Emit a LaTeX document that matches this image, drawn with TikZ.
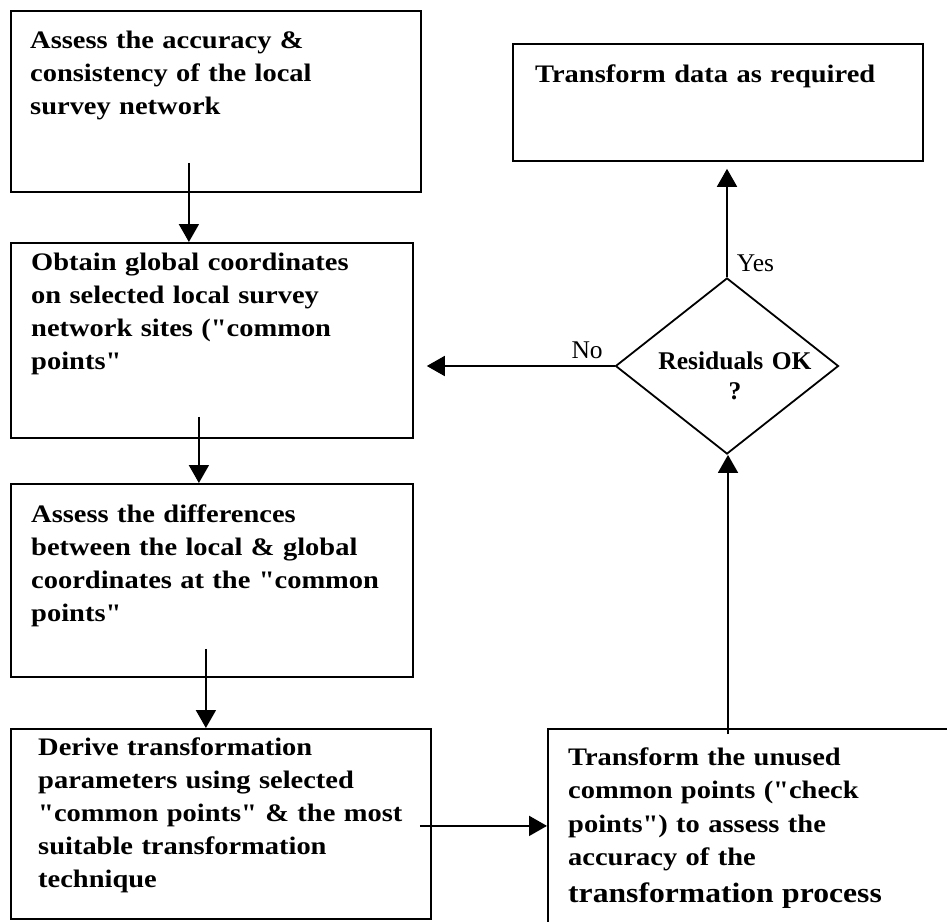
\documentclass[tikz,border=0pt]{standalone}
\usepackage{fontspec}
\newfontfamily\boxfont{Liberation Serif}[FakeStretch=1.13]
\newfontfamily\plainfont{Liberation Serif}
\usetikzlibrary{shapes.geometric,arrows.meta,calc}

\begin{document}
\begin{tikzpicture}[
    x=1pt, y=-1pt,
    stepbox/.style={draw, rectangle, line width=1.8pt, anchor=north west, inner sep=0pt},
    steptext/.style={anchor=base west, inner sep=0pt, text width=420pt, align=left, font=\boxfont\fontsize{25.2}{33}\selectfont\bfseries},
    answer/.style={anchor=base west, inner sep=0pt, font=\plainfont\fontsize{25.5}{30}\selectfont},
    flow/.style={-{Triangle[width=20pt,length=18pt]}, line width=1.8pt}
]
    \clip (0,0) rectangle (947,921);

    % process boxes
    \node[stepbox, minimum width=410pt, minimum height=181pt] (accuracy) at (10,10) {};
    \node[stepbox, minimum width=402pt, minimum height=195pt] (obtain) at (10,242) {};
    \node[stepbox, minimum width=402pt, minimum height=193pt] (differences) at (10,483) {};
    \node[stepbox, minimum width=420pt, minimum height=190pt] (derive) at (10,728) {};
    \node[stepbox, minimum width=420pt, minimum height=220pt] (checkpts) at (547,728) {};
    \node[stepbox, minimum width=410pt, minimum height=117pt] (required) at (512,43) {};
    \node[draw, diamond, line width=1.8pt, inner sep=0pt, minimum width=223pt, minimum height=176pt] (residuals) at (727,366) {};

    % texts
    \node[steptext] (accuracy-t) at (30,48) {Assess the accuracy \&\\consistency of the local\\survey network};
    \node[steptext] (obtain-t) at (31,270) {Obtain global coordinates\\on selected local survey\\network sites ("common\\points"};
    \node[steptext] (differences-t) at (31,522) {Assess the differences\\between the local \& global\\coordinates at the "common\\points"};
    \node[steptext] (derive-t) at (38,755) {Derive transformation\\parameters using selected\\"common points" \& the most\\suitable transformation\\technique};
    \node[steptext, font=\boxfont\fontsize{25.2}{33.5}\selectfont\bfseries] (checkpts-t) at (568,765) {Transform the unused\\common points ("check\\points") to assess the\\accuracy of the\\[3pt]{\fontsize{28}{34}\selectfont transformation process}};
    \node[steptext] (required-t) at (535,82) {Transform data as required};
    \node[steptext, anchor=base, text width=220pt, align=center, font=\plainfont\fontsize{25.5}{30}\selectfont\bfseries] (residuals-t) at (735,369) {Residuals OK\\?};

    % connectors
    \draw[flow] ($(accuracy.south)+(-27,-30)$) coordinate (a1) -- (a1 |- obtain.north);
    \draw[flow] ($(obtain.south)+(-13,-22)$) coordinate (a2) -- (a2 |- differences.north);
    \draw[flow] ($(differences.south)+(-6,-29)$) coordinate (a3) -- (a3 |- derive.north);
    \draw[flow] ($(derive.east)+(-12,2)$) coordinate (a4) -- (a4 -| checkpts.west);
    \draw[flow] ($(checkpts.north west)+(181,6)$) coordinate (a5) -- (a5 |- residuals.south);
    \draw[flow, shorten >=7pt] (residuals.north) -- (residuals.north |- required.south) node[answer, at start, xshift=9pt, yshift=6pt] (yes) {Yes};
    \draw[flow, shorten >=13pt] (residuals.west) -- (residuals.west -| obtain.east) node[answer, at start, anchor=base east, xshift=-11pt, yshift=8pt] (no) {No};
\end{tikzpicture}
\end{document}
